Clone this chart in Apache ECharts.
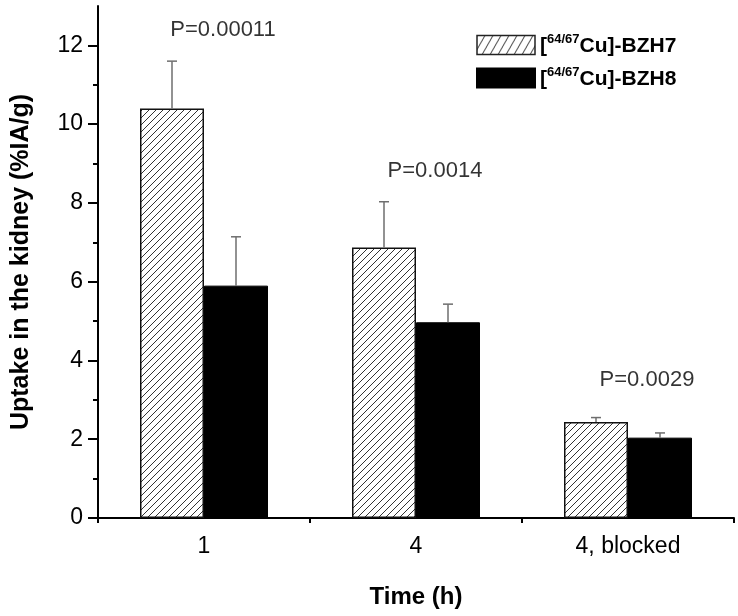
<!DOCTYPE html>
<html>
<head>
<meta charset="utf-8">
<script src="https://cdn.jsdelivr.net/npm/echarts@6/dist/echarts.min.js"></script>
<style>html,body{margin:0;padding:0;background:#fff}#c{width:738px;height:616px}</style>
</head>
<body>
<div id="c"></div>
<script>
// ---- data ----
var categories = ['1', '4', '4, blocked'];
var isotope = '64/67';
var compounds = ['BZH7', 'BZH8'];
var seriesNames = ['[64/67Cu]-BZH7', '[64/67Cu]-BZH8'];
var bzh7 = [10.40, 6.87, 2.44];
var bzh7Err = [1.20, 1.16, 0.11];
var bzh8 = [5.90, 4.97, 2.04];
var bzh8Err = [1.24, 0.46, 0.12];
var pLabels = ['P=0.00011', 'P=0.0014', 'P=0.0029'];
var pLabelY = [12.4, 8.8, 3.5];
var yMajorTicks = [0, 2, 4, 6, 8, 10, 12];
var yMinorTicks = [1, 3, 5, 7, 9, 11];
var yMax = 13;

// ---- styling helpers ----
var FONT = 'Liberation Sans, Arial, sans-serif';
function hatch(w, h, color, lw) {
  var c = document.createElement('canvas');
  c.width = w; c.height = h;
  var ctx = c.getContext('2d');
  ctx.fillStyle = '#fff';
  ctx.fillRect(0, 0, w, h);
  ctx.strokeStyle = color;
  ctx.lineWidth = lw;
  for (var k = -1; k <= 1; k++) {
    ctx.beginPath();
    ctx.moveTo(k * w, h);
    ctx.lineTo(k * w + w, 0);
    ctx.stroke();
  }
  return {image: c, repeat: 'repeat'};
}
var barHatch = hatch(7, 7, '#333', 1);
var legendHatch = hatch(8, 14, '#333', 1);
var BAR_W = 64;

function errSeries(vals, errs, side) {
  var data = vals.map(function (v, i) { return [i, v, v + errs[i]]; });
  return {
    type: 'custom',
    xAxisIndex: 0, yAxisIndex: 0,
    z: 5,
    silent: true,
    data: data,
    renderItem: function (params, api) {
      var lo = api.coord([api.value(0), api.value(1)]);
      var hi = api.coord([api.value(0), api.value(2)]);
      var x = lo[0] + side * BAR_W / 2;
      var cap = 5;
      var st = {stroke: '#6e6e6e', lineWidth: 1.5, fill: null};
      return {
        type: 'group',
        children: [
          {type: 'line', shape: {x1: x, y1: lo[1], x2: x, y2: hi[1]}, style: st},
          {type: 'line', shape: {x1: x - cap, y1: hi[1], x2: x + cap, y2: hi[1]}, style: st}
        ]
      };
    }
  };
}

var legendFormatter = function (name) {
  var idx = seriesNames.indexOf(name);
  return '{t|[}{s|' + isotope + '}{t|Cu]-' + compounds[idx] + '}';
};

var option = {
  backgroundColor: '#fff',
  animation: false,
  textStyle: {fontFamily: FONT},
  grid: {left: 98, right: 4, top: 6, bottom: 98, containLabel: false},
  legend: {
    orient: 'vertical',
    left: 471, top: 28,
    icon: 'rect',
    itemWidth: 58, itemHeight: 19, itemGap: 9,
    data: [
      {name: seriesNames[0], itemStyle: {color: legendHatch, borderColor: '#222', borderWidth: 1.5}},
      {name: seriesNames[1], itemStyle: {color: '#000'}}
    ],
    formatter: legendFormatter,
    textStyle: {
      fontFamily: FONT,
      rich: {
        t: {fontSize: 21, fontWeight: 'bold', color: '#000', fontFamily: FONT, lineHeight: 24, verticalAlign: 'bottom'},
        s: {fontSize: 13, fontWeight: 'bold', color: '#000', fontFamily: FONT, lineHeight: 24, verticalAlign: 'top'}
      }
    }
  },
  xAxis: [
    {
      type: 'category', data: categories,
      name: 'Time (h)', nameLocation: 'middle', nameGap: 67,
      nameTextStyle: {fontSize: 24, fontWeight: 'bold', color: '#000', fontFamily: FONT},
      axisLine: {lineStyle: {color: '#000', width: 2}},
      axisTick: {alignWithLabel: true, length: 7, lineStyle: {color: '#000', width: 2}},
      axisLabel: {fontSize: 23, color: '#000', margin: 17, fontFamily: FONT},
      splitLine: {show: false}
    },
    {
      type: 'category', data: categories, position: 'bottom',
      axisLine: {show: false},
      axisTick: {show: true, length: 5, lineStyle: {color: '#000', width: 2}},
      axisLabel: {show: false},
      splitLine: {show: false}
    }
  ],
  yAxis: [
    {
      type: 'value', min: 0, max: yMax, interval: 1,
      name: 'Uptake in the kidney (%IA/g)', nameLocation: 'middle', nameGap: 64,
      nameTextStyle: {fontSize: 25, fontWeight: 'bold', color: '#000', fontFamily: FONT},
      axisLine: {show: true, lineStyle: {color: '#000', width: 2}},
      axisTick: {show: true, length: 10, customValues: yMajorTicks, lineStyle: {color: '#000', width: 2}},
      axisLabel: {fontSize: 23, color: '#000', margin: 15, customValues: yMajorTicks, fontFamily: FONT},
      splitLine: {show: false}
    },
    {
      type: 'value', min: 0, max: yMax, interval: 1, position: 'left',
      axisLine: {show: false},
      axisTick: {show: true, length: 5, customValues: yMinorTicks, lineStyle: {color: '#000', width: 2}},
      axisLabel: {show: false},
      splitLine: {show: false}
    }
  ],
  series: [
    {
      name: seriesNames[0], type: 'bar', data: bzh7,
      xAxisIndex: 0, yAxisIndex: 0,
      barWidth: BAR_W, barGap: '0%',
      itemStyle: {color: barHatch, borderColor: '#111', borderWidth: 1.5}
    },
    {
      name: seriesNames[1], type: 'bar', data: bzh8,
      xAxisIndex: 0, yAxisIndex: 0,
      barWidth: BAR_W, barGap: '0%',
      itemStyle: {color: '#000', borderColor: '#000', borderWidth: 1}
    },
    errSeries(bzh7, bzh7Err, -1),
    errSeries(bzh8, bzh8Err, 1),
    {
      type: 'scatter', xAxisIndex: 0, yAxisIndex: 0,
      symbolSize: 0, silent: true, z: 6,
      data: pLabelY.map(function (v, i) { return [i, v]; }),
      label: {
        show: true, position: 'inside', offset: [19, 0],
        formatter: function (p) { return pLabels[p.dataIndex]; },
        fontSize: 22, color: '#000', fontFamily: FONT
      }
    }
  ]
};
var chart = echarts.init(document.getElementById('c'), null, {renderer: 'canvas'});
chart.setOption(option);
</script>
</body>
</html>
